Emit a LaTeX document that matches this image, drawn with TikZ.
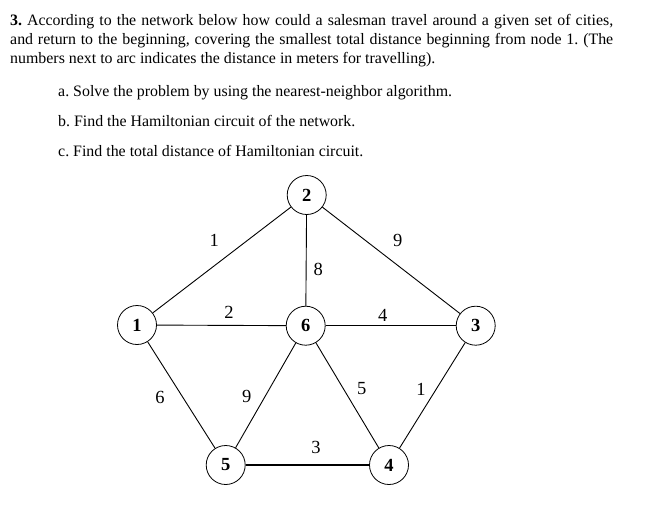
\documentclass[tikz,border=0pt]{standalone}
\usepackage{fontspec}
\setmainfont{Liberation Serif}
\usetikzlibrary{positioning}

\begin{document}
\frenchspacing
\begin{tikzpicture}[x=1pt, y=-1pt,
  city/.style={draw, circle, line width=0.8pt, minimum size=39pt, inner sep=0pt, font=\fontsize{18.5}{20}\selectfont\bfseries},
  road/.style={line width=0.9pt},
  dist/.style={inner sep=0pt, font=\fontsize{18.5}{20}\selectfont}]

\useasboundingbox (0,0) rectangle (651,515);

% Question text
\node[anchor=base west, inner sep=0pt, text width=603pt, align=justify,
      font=\fontsize{15.9}{19}\selectfont] (question) at (10,25.7)
  {\textbf{3.}\hspace{5pt}According to the network below how could a salesman travel around a given set of cities,\linebreak
   and return to the beginning, covering the smallest total distance beginning from node 1. (The\linebreak
   numbers next to arc indicates the distance in meters for travelling).};
\node[anchor=base west, inner sep=0pt, font=\fontsize{15.9}{19}\selectfont] (parta) at (58,96.7) {a. Solve the problem by using the nearest-neighbor algorithm.};
\node[anchor=base west, inner sep=0pt, font=\fontsize{15.9}{19}\selectfont] (partb) at (58,126.7) {b. Find the Hamiltonian circuit of the network.};
\node[anchor=base west, inner sep=0pt, font=\fontsize{15.9}{19}\selectfont] (partc) at (58,156) {c. Find the total distance of Hamiltonian circuit.};

% Cities
\node[city] (n1) at (137,325) {1};
\node[city] (n2) at (306.7,195) {2};
\node[city] (n3) at (475.7,325.7) {3};
\node[city] (n4) at (389,465) {4};
\node[city] (n5) at (225.7,465) {5};
\node[city] (n6) at (305.7,325.7) {6};

% Roads
\draw[road] (n1) -- (n2);
\draw[road] (n2) -- (n6);
\draw[road] (n2) -- (n3);
\draw[road] (n1) -- (n6);
\draw[road] (n6) -- (n3);
\draw[road] (n1) -- (n5);
\draw[road] (n6) -- (n5);
\draw[road] (n6) -- (n4);
\draw[road] (n3) -- (n4);
\draw[road, line width=1.2pt] (n5) -- (n4);

% Distances
\node[dist] (d12) at (214.3,240.7) {1};
\node[dist] (d23) at (397.7,240) {9};
\node[dist] (d26) at (318.3,269) {8};
\node[dist] (d16) at (229,312.7) {2};
\node[dist] (d63) at (382.7,315) {4};
\node[dist] (d15) at (160,397.3) {6};
\node[dist] (d65) at (246.7,396) {9};
\node[dist] (d64) at (361.7,389) {5};
\node[dist] (d34) at (421,389) {1};
\node[dist] (d54) at (316,447.3) {3};

\end{tikzpicture}
\end{document}
